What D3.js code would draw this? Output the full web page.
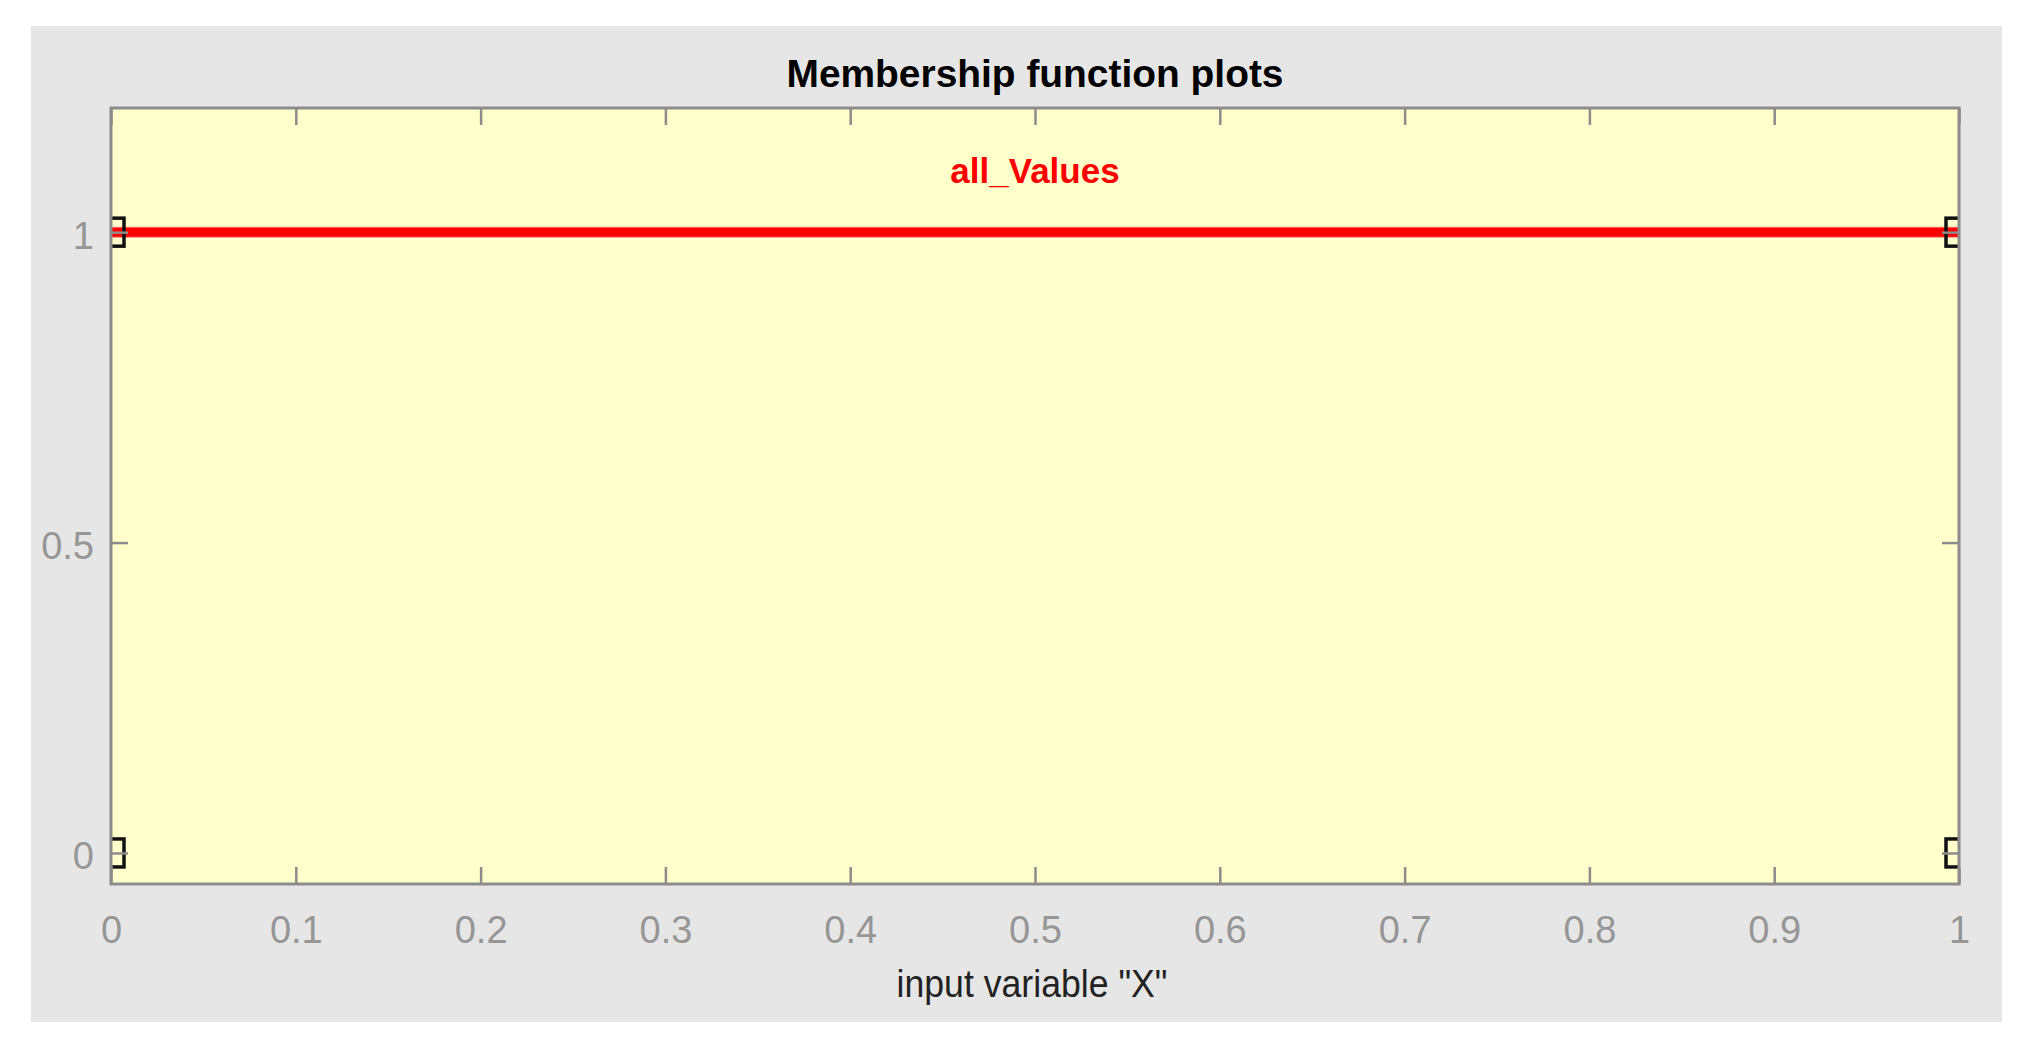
<!DOCTYPE html>
<html>
<head>
<meta charset="utf-8">
<script src="https://cdn.jsdelivr.net/npm/d3@7"></script>
<style>
  html, body { margin: 0; padding: 0; background: #ffffff; }
  svg { display: block; }
</style>
</head>
<body>
<script>
// ---- data ----
const titleText = "Membership function plots";
const xLabelText = 'input variable "X"';
const mfName = "all_Values";
const xDomain = [0, 1];
const yDomain = [-0.05, 1.2];
const xTicks = [0, 0.1, 0.2, 0.3, 0.4, 0.5, 0.6, 0.7, 0.8, 0.9, 1];
const xTickLabels = ["0", "0.1", "0.2", "0.3", "0.4", "0.5", "0.6", "0.7", "0.8", "0.9", "1"];
const yTicks = [0, 0.5, 1];
const yTickLabels = ["0", "0.5", "1"];
// membership function: top segment drawn, vertices marked
const mfLineX = [0, 1];
const mfLineY = [1, 1];
const mfVertexX = [0, 0, 1, 1];
const mfVertexY = [0, 1, 1, 0];
const mfLabelPos = { x: 0.5, y: 1.1 };

// ---- layout ----
const W = 2030, H = 1048;
const panel = { x: 31, y: 26, w: 1971, h: 996 };
const plot = { left: 111, right: 1959, top: 108, bottom: 884 };
const axisColor = "#8c8c8c";
const tickLen = 17;

const svg = d3.select("body").append("svg")
  .attr("width", W).attr("height", H);

svg.append("rect").attr("x", 0).attr("y", 0).attr("width", W).attr("height", H).attr("fill", "#ffffff");
svg.append("rect").attr("x", panel.x).attr("y", panel.y).attr("width", panel.w).attr("height", panel.h)
  .attr("fill", "#e6e6e6");

const x = d3.scaleLinear().domain(xDomain).range([plot.left, plot.right]);
const y = d3.scaleLinear().domain(yDomain).range([plot.bottom, plot.top]);

// plot background
svg.append("rect")
  .attr("x", plot.left).attr("y", plot.top)
  .attr("width", plot.right - plot.left).attr("height", plot.bottom - plot.top)
  .attr("fill", "#ffffcc");

svg.append("defs").append("clipPath").attr("id", "plotclip")
  .append("rect")
  .attr("x", plot.left).attr("y", plot.top)
  .attr("width", plot.right - plot.left).attr("height", plot.bottom - plot.top);

const g = svg.append("g").attr("clip-path", "url(#plotclip)");

// membership function line
const lineData = mfLineX.map((d, i) => [d, mfLineY[i]]);
g.append("path")
  .datum(lineData)
  .attr("d", d3.line().x(d => x(d[0])).y(d => y(d[1])))
  .attr("fill", "none")
  .attr("stroke", "#ff8080")
  .attr("stroke-width", 11);
g.append("path")
  .datum(lineData)
  .attr("d", d3.line().x(d => x(d[0])).y(d => y(d[1])))
  .attr("fill", "none")
  .attr("stroke", "#ff0000")
  .attr("stroke-width", 9);

// vertex markers
const mk = 26;
g.selectAll("rect.vtx")
  .data(mfVertexX.map((d, i) => [d, mfVertexY[i]]))
  .enter().append("rect")
  .attr("class", "vtx")
  .attr("x", d => x(d[0]) - mk / 2)
  .attr("y", d => y(d[1]) - mk / 2 - 1)
  .attr("width", mk).attr("height", mk + 2)
  .attr("fill", "none")
  .attr("stroke", "#111111")
  .attr("stroke-width", 3.5);

// mf label
svg.append("text")
  .attr("x", x(mfLabelPos.x)).attr("y", 183)
  .attr("text-anchor", "middle")
  .attr("font-family", "Liberation Sans, Arial, sans-serif")
  .attr("font-weight", "bold")
  .attr("font-size", 35)
  .attr("fill", "#ff0000")
  .text(mfName);

// axes
function styleAxis(sel) {
  sel.select(".domain").remove();
  sel.selectAll(".tick line").attr("stroke", axisColor).attr("stroke-width", 2.5);
}

const xb = svg.append("g").attr("transform", `translate(0,${plot.bottom})`)
  .call(d3.axisBottom(x).tickValues(xTicks).tickSizeInner(-tickLen).tickSizeOuter(0)
    .tickFormat((d, i) => xTickLabels[i]));
styleAxis(xb);
xb.selectAll(".tick text")
  .attr("y", 59).attr("dy", 0)
  .attr("font-family", "Liberation Sans, Arial, sans-serif")
  .attr("font-size", 38)
  .attr("fill", "#969696");

const xt = svg.append("g").attr("transform", `translate(0,${plot.top})`)
  .call(d3.axisTop(x).tickValues(xTicks).tickSizeInner(-tickLen).tickSizeOuter(0).tickFormat(""));
styleAxis(xt);

const yl = svg.append("g").attr("transform", `translate(${plot.left},0)`)
  .call(d3.axisLeft(y).tickValues(yTicks).tickSizeInner(-tickLen).tickSizeOuter(0)
    .tickFormat((d, i) => yTickLabels[i]));
styleAxis(yl);
yl.selectAll(".tick text")
  .attr("x", -17).attr("dy", "0.42em")
  .attr("font-family", "Liberation Sans, Arial, sans-serif")
  .attr("font-size", 38)
  .attr("fill", "#969696");

const yr = svg.append("g").attr("transform", `translate(${plot.right},0)`)
  .call(d3.axisRight(y).tickValues(yTicks).tickSizeInner(-tickLen).tickSizeOuter(0).tickFormat(""));
styleAxis(yr);

// frame
svg.append("rect")
  .attr("x", plot.left).attr("y", plot.top)
  .attr("width", plot.right - plot.left).attr("height", plot.bottom - plot.top)
  .attr("fill", "none")
  .attr("stroke", axisColor)
  .attr("stroke-width", 3);

// title
svg.append("text")
  .attr("x", (plot.left + plot.right) / 2).attr("y", 87)
  .attr("text-anchor", "middle")
  .attr("font-family", "Liberation Sans, Arial, sans-serif")
  .attr("font-weight", "bold")
  .attr("font-size", 38)
  .attr("fill", "#000000")
  .attr("textLength", 497)
  .attr("lengthAdjust", "spacingAndGlyphs")
  .text(titleText);

// x label
svg.append("text")
  .attr("x", 1032).attr("y", 997)
  .attr("text-anchor", "middle")
  .attr("font-family", "Liberation Sans, Arial, sans-serif")
  .attr("font-size", 38)
  .attr("fill", "#222222")
  .attr("textLength", 271)
  .attr("lengthAdjust", "spacingAndGlyphs")
  .text(xLabelText);
</script>
</body>
</html>
